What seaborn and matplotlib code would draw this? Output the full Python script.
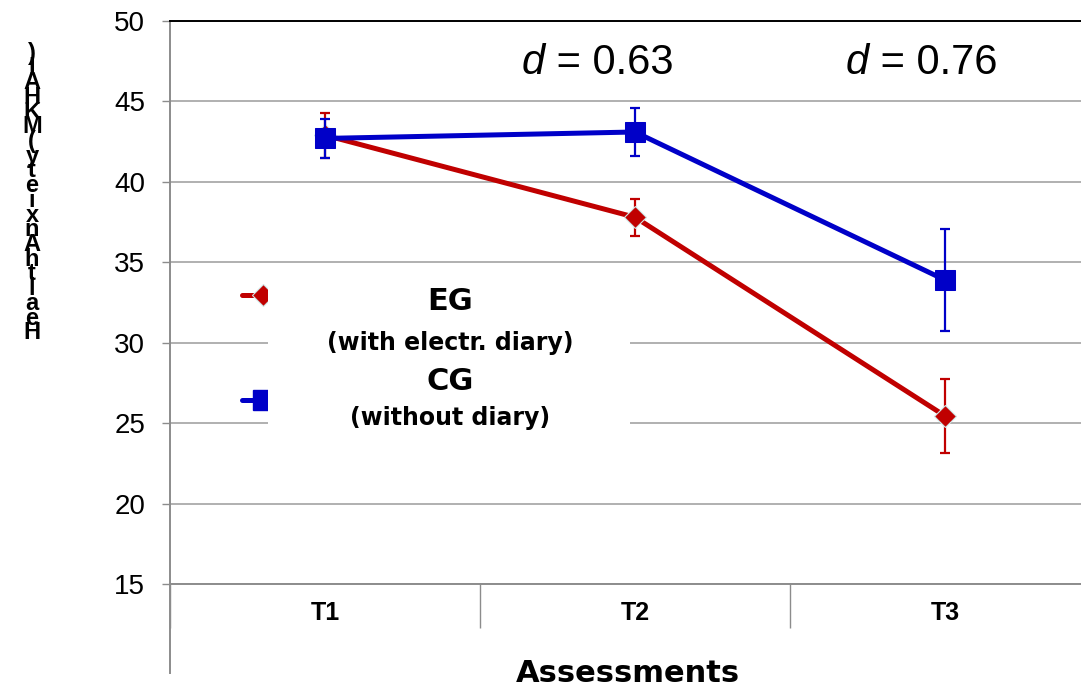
import numpy as np
import pandas as pd
import seaborn as sns
from matplotlib import pyplot as plt
from matplotlib.lines import Line2D
from matplotlib.patches import Rectangle

# values
times = ["T1", "T2", "T3"]
eg_mean = [42.9, 37.8, 25.45]
eg_err = [1.4, 1.15, 2.3]
cg_mean = [42.7, 43.1, 33.9]
cg_err = [1.2, 1.5, 3.2]
y_ticks = [15, 20, 25, 30, 35, 40, 45, 50]
effect_labels = ["0.63", "0.76"]
ylabel_text = "HealthAnxiety(MKHAI)"

RED = "#C00000"
BLUE = "#0000C8"
GRID = "#b0b0b0"
SPINE = "#8c8c8c"

sns.set_style("white")
plt.rcParams["font.family"] = ["Liberation Sans", "DejaVu Sans"]
plt.rcParams["text.color"] = "black"
plt.rcParams["ytick.labelcolor"] = "black"
plt.rcParams["xtick.labelcolor"] = "black"

pos = np.arange(len(times))
df = pd.DataFrame({"pos": np.concatenate([pos, pos]),
                   "score": eg_mean + cg_mean,
                   "group": ["EG"] * len(times) + ["CG"] * len(times)})

fig = plt.figure(figsize=(10.81, 6.9), dpi=100)
ax = fig.add_axes([170 / 1081, 106 / 690, 930 / 1081, 563 / 690])

# EG (red diamonds), drawn first so CG sits on top at T1
ax.errorbar(pos, eg_mean, yerr=eg_err, fmt="none", ecolor=RED,
            elinewidth=1.6, capsize=3.6, capthick=1.6, zorder=3)
sns.lineplot(data=df[df.group == "EG"], x="pos", y="score", ax=ax,
             color=RED, lw=3.6, marker="D", markersize=11,
             markeredgecolor="#cfe8e8", markeredgewidth=0.8, zorder=4)
sns.lineplot(data=df[df.group == "CG"], x="pos", y="score", ax=ax,
             color=BLUE, lw=3.6, marker="s", markersize=14,
             markeredgecolor=BLUE, zorder=5)
ax.errorbar(pos, cg_mean, yerr=cg_err, fmt="none", ecolor=BLUE,
            elinewidth=1.6, capsize=3.6, capthick=1.6, zorder=6)

ax.set_xlim(-0.5, len(times) - 0.5)
ax.set_ylim(15, 50)
ax.set_yticks(y_ticks)
ax.set_yticklabels([str(t) for t in y_ticks], fontsize=20)
ax.tick_params(axis="y", direction="out", length=6, width=1,
               color=SPINE, pad=12, left=True)

# category separators as major ticks, labels on minor ticks
ax.set_xticks(np.arange(-0.5, len(times)))
ax.set_xticklabels([])
ax.set_xticks(pos, minor=True)
ax.set_xticklabels(times, minor=True, fontsize=18, fontweight="bold")
ax.tick_params(axis="x", which="major", direction="out", length=32,
               width=1, color=SPINE, bottom=True)
ax.tick_params(axis="x", which="minor", length=0, pad=12)

ax.yaxis.grid(True, color=GRID, lw=1.4)
ax.set_axisbelow(True)
ax.set_xlabel("")
ax.set_ylabel("")

for side in ["left", "bottom"]:
    ax.spines[side].set_color(SPINE)
    ax.spines[side].set_linewidth(1.4)
ax.spines["top"].set_color("black")
ax.spines["top"].set_linewidth(1.4)
ax.spines["right"].set_visible(False)
ax.spines["left"].set_bounds(9.45, 50)

# effect sizes: italic d, then the value
for x_split, label in zip([0.71, 1.755], effect_labels):
    ax.text(x_split, 47.4, "d", fontsize=30, style="italic",
            ha="right", va="center")
    ax.text(x_split, 47.4, " = " + label, fontsize=30,
            ha="left", va="center")

# legend drawn by hand, with its white box over the grid
ax.add_patch(Rectangle((0.1054, 0.247), 0.3892, 0.284, transform=ax.transAxes,
                       facecolor="white", edgecolor="none", zorder=2.5))
ax.add_line(Line2D([0.0774, 0.1022], [0.513, 0.513], transform=ax.transAxes,
                   color=RED, lw=3.6, zorder=2))
ax.add_line(Line2D([0.1], [0.513], transform=ax.transAxes, marker="D",
                   markersize=11, color=RED, markeredgecolor="#cfe8e8",
                   markeredgewidth=0.8, zorder=2))
ax.add_line(Line2D([0.0774, 0.1022], [0.327, 0.327], transform=ax.transAxes,
                   color=BLUE, lw=3.6, zorder=2))
ax.add_line(Line2D([0.1], [0.327], transform=ax.transAxes, marker="s",
                   markersize=14, color=BLUE, zorder=2))
leg_font = ["DejaVu Sans"]
ax.text(0.301, 0.501, "EG", transform=ax.transAxes, fontsize=22,
        fontweight="bold", family=leg_font, ha="center", va="center", zorder=7)
ax.text(0.301, 0.428, "(with electr. diary)", transform=ax.transAxes,
        fontsize=17, fontweight="bold", family=leg_font, ha="center",
        va="center", zorder=7)
ax.text(0.301, 0.359, "CG", transform=ax.transAxes, fontsize=22,
        fontweight="bold", family=leg_font, ha="center", va="center", zorder=7)
ax.text(0.301, 0.295, "(without diary)", transform=ax.transAxes,
        fontsize=17, fontweight="bold", family=leg_font, ha="center",
        va="center", zorder=7)

fig.text(628 / 1081, 1 - 673 / 690, "Assessments", fontsize=22,
         fontweight="bold", family=leg_font, ha="center", va="center")

# stacked y label as it appears in the source
fig.text(32 / 1081, 1 - 193 / 690, "\n".join(reversed(ylabel_text)),
         fontsize=17, fontweight="bold", ha="center", va="center",
         linespacing=0.54)

fig.savefig("out.png", dpi=100)
